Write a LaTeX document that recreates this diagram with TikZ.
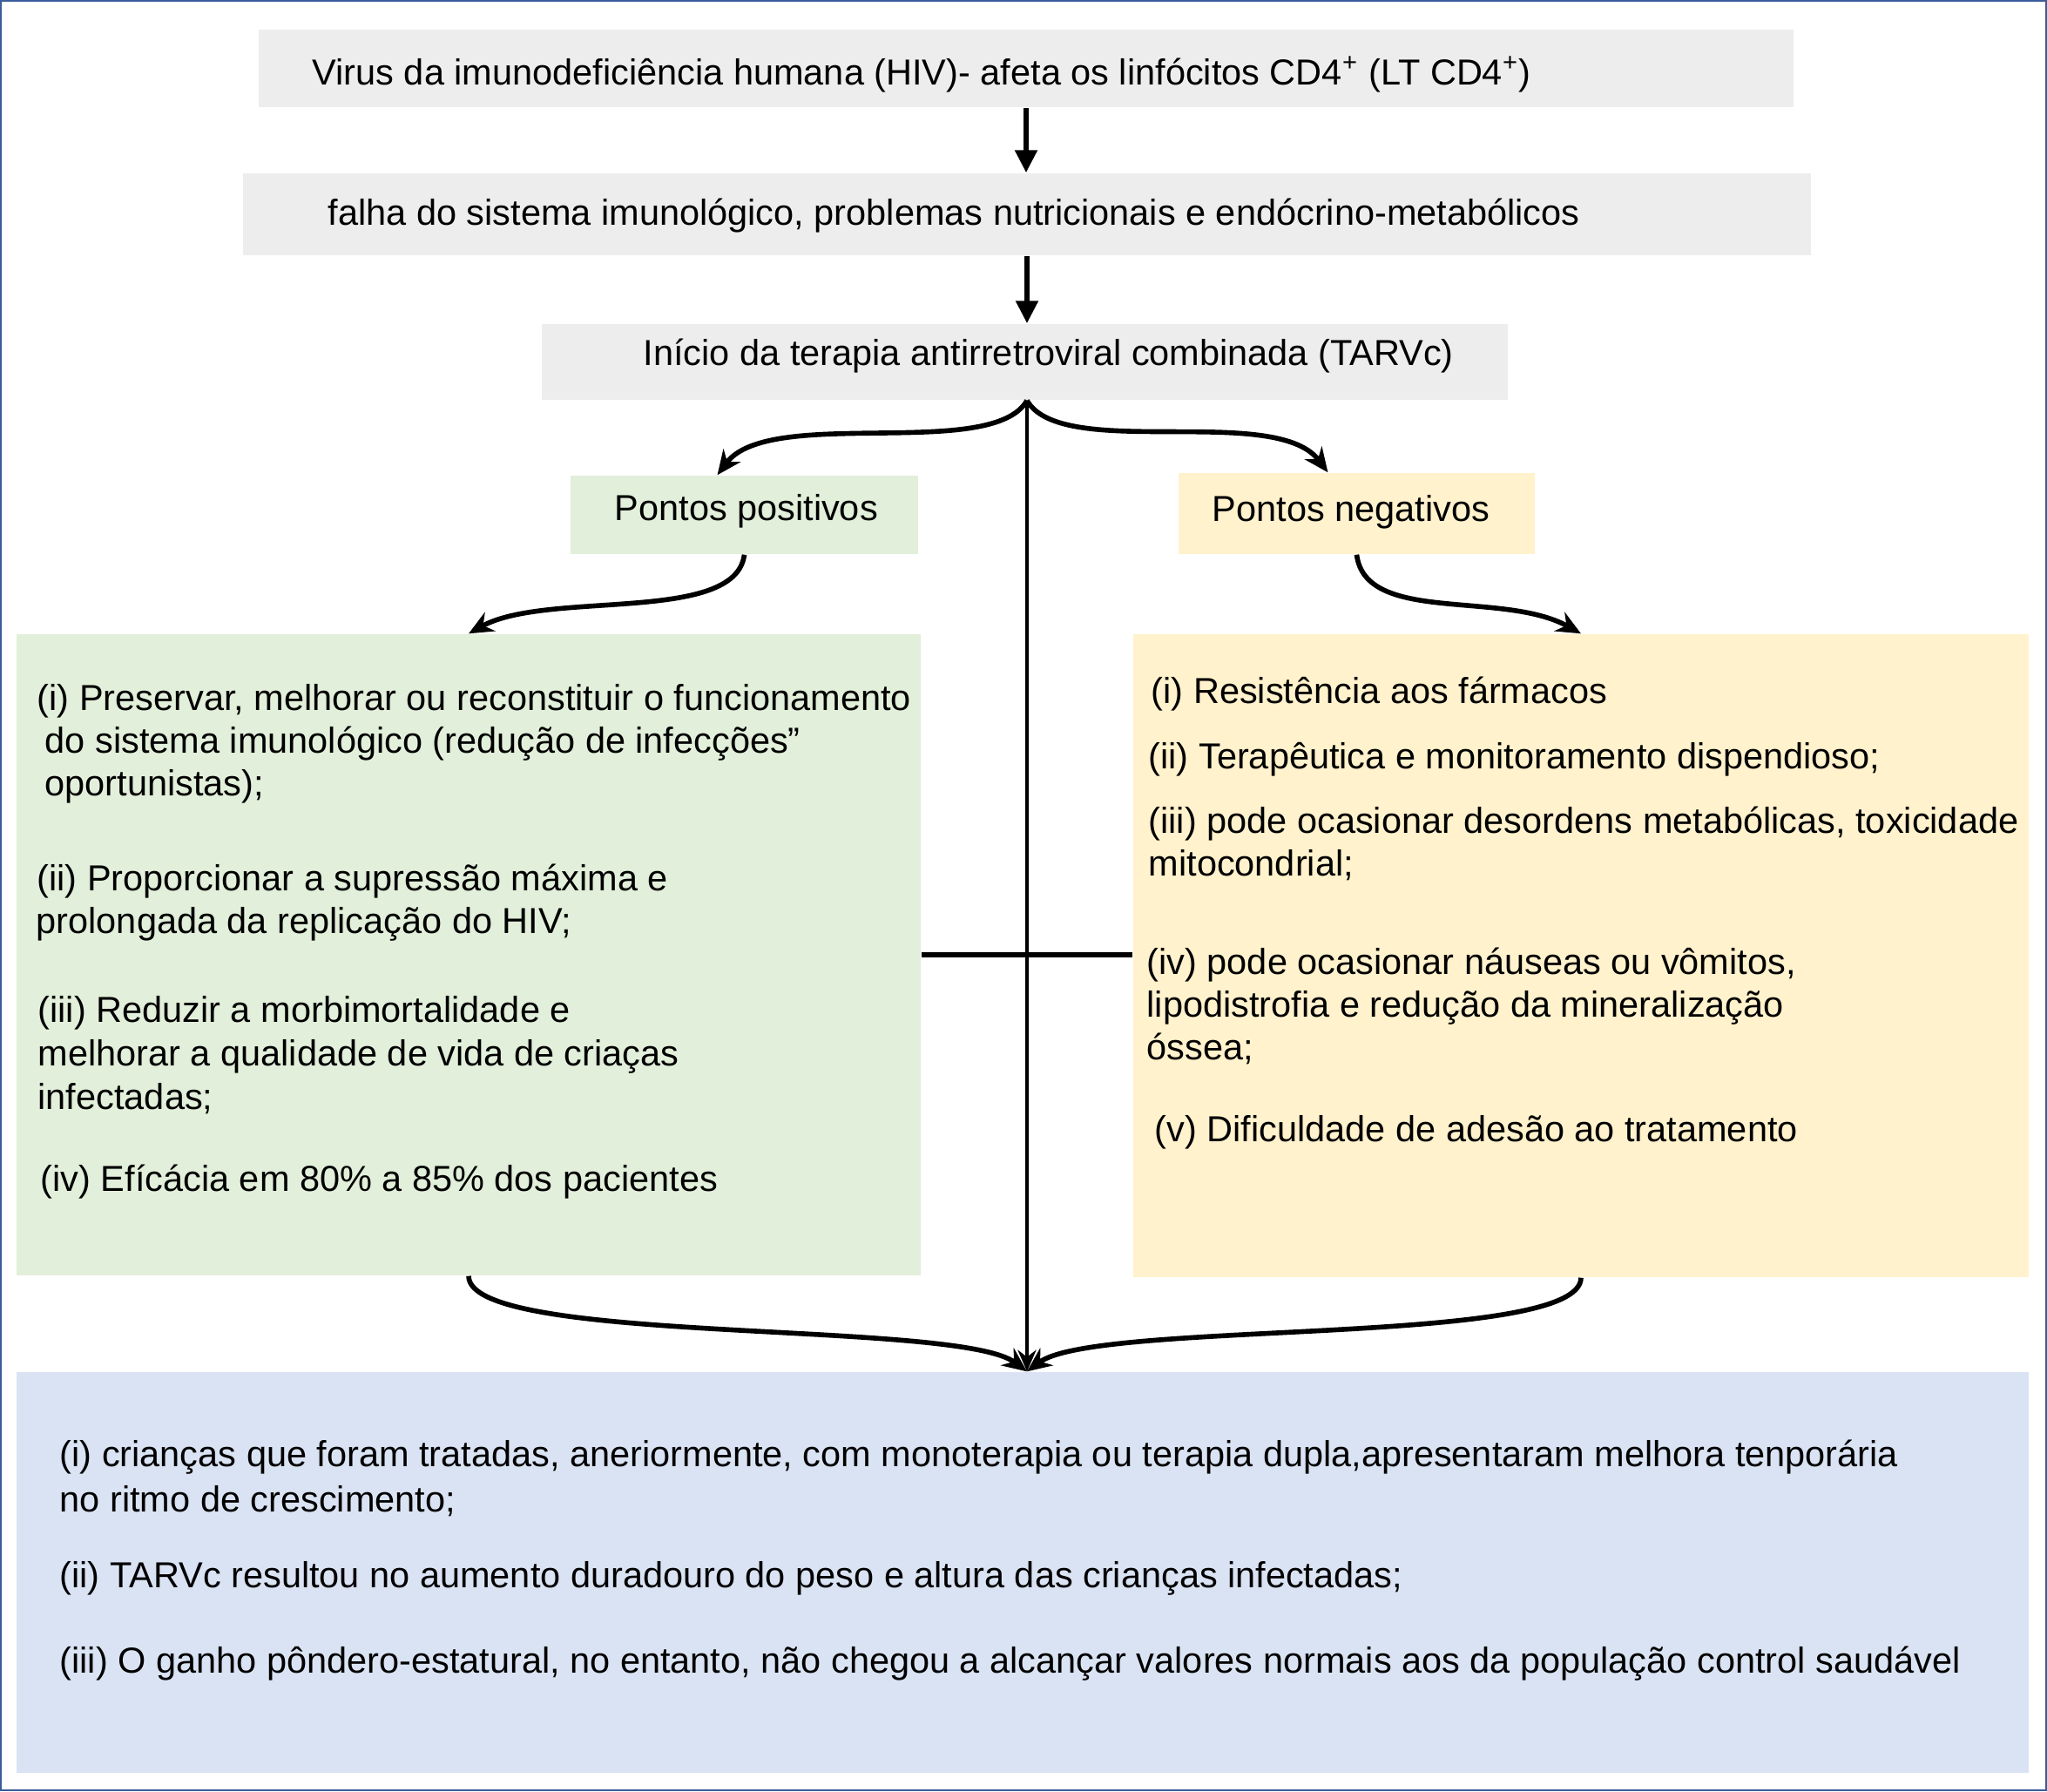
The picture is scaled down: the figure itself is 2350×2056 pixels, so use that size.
\documentclass[tikz,border=0pt]{standalone}
\usepackage{fontspec}
\setmainfont{Liberation Sans}
\usetikzlibrary{arrows.meta,calc,fit}

\definecolor{boxgray}{HTML}{EDEDED}
\definecolor{boxgreen}{HTML}{E2EFDA}
\definecolor{boxyellow}{HTML}{FFF2CC}
\definecolor{boxblue}{HTML}{DAE3F3}
\definecolor{framecol}{HTML}{3B5C9A}

\tikzset{
  panel/.style={fill=#1, draw=none, inner sep=0pt},
  txt/.style={anchor=base west, inner sep=0pt, font=\fontsize{11.8}{13.9}\selectfont},
  flow/.style={-{Triangle[length=7.4pt,width=7pt]}, line width=1.8pt},
  trunk/.style={-{Stealth[length=7pt,width=6pt]}, line width=1.4pt},
  curvy/.style={-{Stealth[length=8pt,width=7pt]}, line width=1.6pt}
}

\begin{document}
\begin{tikzpicture}[x=0.01cm,y=-0.01cm]
	\useasboundingbox (0,0) rectangle (2350,2056);
	\draw[framecol, line width=0.6pt] (1,1) rectangle (2349,2055);

            % boxes
            \node[panel=boxgray, fit={(297,34) (2059,123)}] (virus) {};
            \node[panel=boxgray, fit={(279,199) (2079,293)}] (falha) {};
            \node[panel=boxgray, fit={(622,372) (1731,459)}] (inicio) {};
            \node[panel=boxgreen, fit={(655,546) (1054,636)}] (plus) {};
            \node[panel=boxyellow, fit={(1353,543) (1762,636)}] (minus) {};
            \node[panel=boxgreen, fit={(19,728) (1057,1464)}] (gains) {};
            \node[panel=boxyellow, fit={(1301,728) (2329,1466)}] (costs) {};
            \node[panel=boxblue, fit={(19,1575) (2329,2035)}] (outcome) {};

            \node[txt] (virustxt) at (358,97) {Virus da imunodeficiência humana (HIV)- afeta os linfócitos CD4\textsuperscript{+} (LT CD4\textsuperscript{+})};
            \node[txt] (falhatxt) at (376,258) {falha do sistema imunológico, problemas nutricionais e endócrino-metabólicos};
            \node[txt] (iniciotxt) at (738,419) {Início da terapia antirretroviral combinada (TARVc)};
            \node[txt] (plustxt) at (705,597) {Pontos positivos};
            \node[txt] (minustxt) at (1391,598) {Pontos negativos};

            \foreach \x/\y/\t [count=\i] in {42/815/{(i) Preservar, melhorar ou reconstituir o funcionamento},
              51/864/{do sistema imunológico (redução de infecções”},
              51/913/{oportunistas);},
              42/1022/{(ii) Proporcionar a supressão máxima e},
              41/1071/{prolongada da replicação do HIV;},
              43/1173/{(iii) Reduzir a morbimortalidade e},
              43/1223/{melhorar a qualidade de vida de criaças},
              43/1273/{infectadas;},
              46/1367/{(iv) Efícácia em 80\% a 85\% dos pacientes}}{
              \node[txt] (gain\i) at (\x,\y) {\t};
            }

            \foreach \x/\y/\t [count=\i] in {1321/807/{(i) Resistência aos fármacos},
              1318/882/{(ii) Terapêutica e monitoramento dispendioso;},
              1318/956/{(iii) pode ocasionar desordens metabólicas, toxicidade},
              1318/1005/{mitocondrial;},
              1316/1118/{(iv) pode ocasionar náuseas ou vômitos,},
              1316/1167/{lipodistrofia e redução da mineralização},
              1316/1216/{óssea;},
              1325/1310/{(v) Dificuldade de adesão ao tratamento}}{
              \node[txt] (cost\i) at (\x,\y) {\t};
            }

            \foreach \y/\t [count=\i] in {1683/{(i) crianças que foram tratadas, aneriormente, com monoterapia ou terapia dupla,apresentaram melhora tenporária},
              1735/{no ritmo de crescimento;},
              1822/{(ii) TARVc resultou no aumento duradouro do peso e altura das crianças infectadas;},
              1920/{(iii) O ganho pôndero-estatural, no entanto, não chegou a alcançar valores normais aos da população control saudável}}{
              \node[txt] (out\i) at (68,\y) {\t};
            }

            % connectors
            \coordinate (hub) at (inicio.south -| falha.south);
            \coordinate (sink) at (hub |- outcome.north);

            \draw[flow] (virus.south) -- (virus.south |- falha.north);
            \draw[flow] (falha.south) -- (falha.south |- inicio.north);
            \draw[trunk] (hub) -- (sink);

            \draw[curvy] (hub) .. controls +(-40,70) and +(60,-80) .. ($(plus.north)+(-31,0)$);
            \draw[curvy] (hub) .. controls +(40,70) and +(-60,-80) .. ($(minus.north)+(-33,0)$);
            \draw[curvy] (plus.south) .. controls +(-10,80) and +(90,-50) .. (gains.north);
            \draw[curvy] (minus.south) .. controls +(10,80) and +(-90,-50) .. (costs.north);
            \draw[curvy] (gains.south) .. controls +(0,80) and +(-80,-60) .. (sink);
            \draw[curvy] (costs.south) .. controls +(0,80) and +(80,-60) .. (sink);

            \draw[line width=1.5pt] (gains.east) -- (gains.east -| costs.west);
        \end{tikzpicture}
\end{document}
